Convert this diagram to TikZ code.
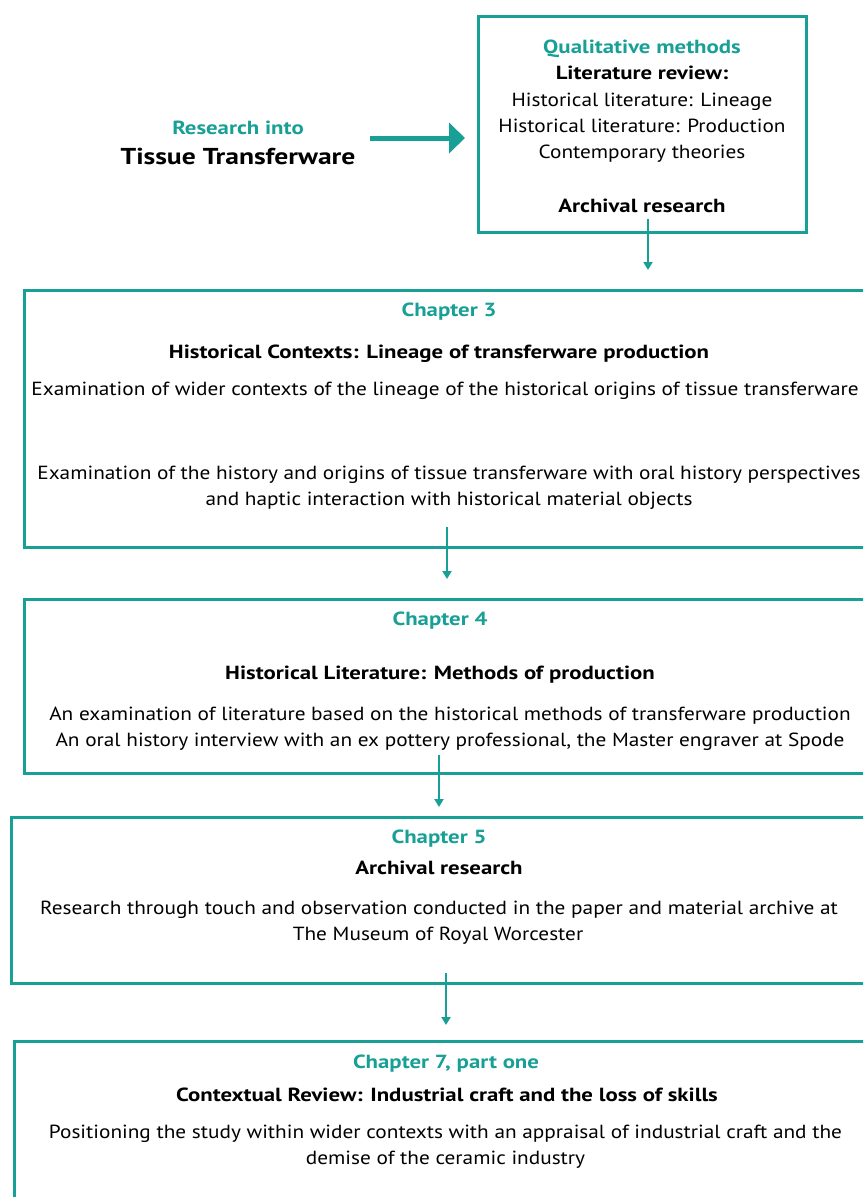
\documentclass[tikz,border=0pt]{standalone}
\usepackage{fontspec}
\setmainfont{PT Sans}[FakeStretch=1.12,BoldFeatures={FakeStretch=1.2}]
\usetikzlibrary{arrows.meta,calc}
\definecolor{brandteal}{RGB}{24,160,150}
\begin{document}
\begin{tikzpicture}[x=1pt,y=-1pt,
  frame/.style={draw=brandteal,line width=3pt,rectangle,inner sep=0pt,anchor=north west},
  txt/.style={anchor=base,inner sep=0pt,font=\fontsize{19}{23}\selectfont},
  head/.style={txt,text=brandteal,font=\fontsize{19}{23}\selectfont\bfseries},
  title/.style={txt,font=\fontsize{19}{23}\selectfont\bfseries},
  link/.style={draw=brandteal,line width=2pt,-{Triangle[width=9pt,length=8pt]}},
  bigarrow/.style={draw=brandteal,line width=5pt,-{Triangle[width=30pt,length=16pt]}}]
\useasboundingbox (0,0) rectangle (863,1197);
\clip (0,0) rectangle (863,1197);
\fill[white] (0,0) rectangle (863,1197);

% starting point
\node[head] (res1) at (238,134) {Research into};
\node[title,font=\fontsize{23}{28}\selectfont\bfseries] (res2) at (238,164) {Tissue Transferware};

% qualitative methods box
\node[frame,minimum width=328pt,minimum height=216pt] (q) at (477,15) {};
\node[head] (q1) at (642,53) {Qualitative methods};
\node[title] (q2) at (642,79) {Literature review:};
\node[txt] (q3) at (642,106) {Historical literature: Lineage};
\node[txt] (q4) at (642,132) {Historical literature: Production};
\node[txt] (q5) at (642,158) {Contemporary theories};
\node[title] (q6) at (642,212) {Archival research};

% chapter 3
\node[frame,minimum width=870pt,minimum height=257pt] (c3) at (23,289) {};
\node[head] (c3a) at (449,316) {Chapter 3};
\node[title] (c3b) at (439,358) {Historical Contexts: Lineage of transferware production};
\node[txt] (c3c) at (445,395) {Examination of wider contexts of the lineage of the historical origins of tissue transferware};
\node[txt] (c3d) at (449,479) {Examination of the history and origins of tissue transferware with oral history perspectives};
\node[txt] (c3e) at (449,505) {and haptic interaction with historical material objects};

% chapter 4
\node[frame,minimum width=870pt,minimum height=174pt] (c4) at (23,598) {};
\node[head] (c4a) at (440,625) {Chapter 4};
\node[title] (c4b) at (440,679) {Historical Literature: Methods of production};
\node[txt] (c4c) at (450,720) {An examination of literature based on the historical methods of transferware production};
\node[txt] (c4d) at (450,746) {An oral history interview with an ex pottery professional, the Master engraver at Spode};

% chapter 5
\node[frame,minimum width=880pt,minimum height=166pt] (c5) at (10,816) {};
\node[head] (c5a) at (439,843) {Chapter 5};
\node[title] (c5b) at (439,874) {Archival research};
\node[txt] (c5c) at (439,914) {Research through touch and observation conducted in the paper and material archive at};
\node[txt] (c5d) at (438,940) {The Museum of Royal Worcester};

% chapter 7
\node[frame,minimum width=880pt,minimum height=200pt] (c7) at (13,1040) {};
\node[head] (c7a) at (446,1068) {Chapter 7, part one};
\node[title] (c7b) at (447,1101) {Contextual Review: Industrial craft and the loss of skills};
\node[txt] (c7c) at (445.5,1138) {Positioning the study within wider contexts with an appraisal of industrial craft and the};
\node[txt] (c7d) at (445.5,1164) {demise of the ceramic industry};

% connectors
\coordinate (r-out) at (370,138);
\coordinate (q-in) at (465,138);
\draw[bigarrow] (r-out) -- (q-in);

\coordinate (q-out) at (648,219);
\coordinate (c3-in) at (648,270);
\draw[link] (q-out) -- (c3-in);

\coordinate (c3-out) at (447,527);
\coordinate (c4-in) at (447,579);
\draw[link] (c3-out) -- (c4-in);

\coordinate (c4-out) at (439,755);
\coordinate (c5-in) at (439,807);
\draw[link] (c4-out) -- (c5-in);

\coordinate (c5-out) at (446,973);
\coordinate (c7-in) at (446,1025);
\draw[link] (c5-out) -- (c7-in);
\end{tikzpicture}
\end{document}
